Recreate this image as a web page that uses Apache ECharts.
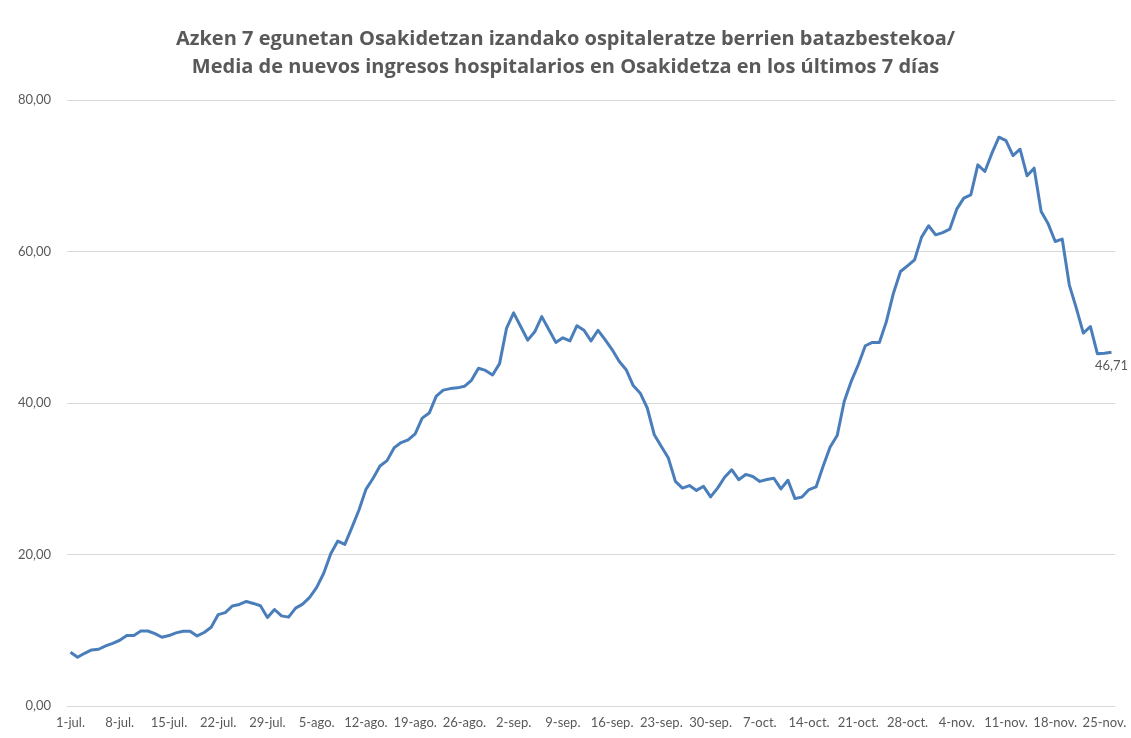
<!DOCTYPE html>
<html>
<head>
<meta charset="utf-8">
<script src="https://cdn.jsdelivr.net/npm/echarts@6/dist/echarts.min.js"></script>
<style>
html,body{margin:0;padding:0;background:#fff;}
#chart{width:1131px;height:738px;}
</style>
</head>
<body>
<div id="chart"></div>
<script>
// Category labels: daily from 1-jul. to 26-nov.
var monthNames = ['jul.', 'ago.', 'sep.', 'oct.', 'nov.'];
var monthDays = [31, 31, 30, 31, 26];
var categories = [];
for (var m = 0; m < monthNames.length; m++) {
  for (var d = 1; d <= monthDays[m]; d++) categories.push(d + '-' + monthNames[m]);
}

// 7-day average of new hospital admissions
var valuesJul = [7.09, 6.43, 6.96, 7.40, 7.49, 7.93, 8.28, 8.68, 9.30, 9.30,
  9.90, 9.90, 9.56, 9.07, 9.30, 9.65, 9.87, 9.87, 9.25, 9.70,
  10.40, 12.07, 12.33, 13.20, 13.40, 13.80, 13.54, 13.23, 11.68, 12.74, 11.90];
var valuesAgo = [11.73, 12.92, 13.45, 14.34, 15.66, 17.52, 20.10, 21.77, 21.33, 23.54,
  25.84, 28.60, 30.04, 31.68, 32.39, 34.07, 34.78, 35.13, 35.93, 38.00,
  38.67, 40.90, 41.70, 41.90, 42.00, 42.20, 43.00, 44.58, 44.30, 43.70, 45.20];
var valuesSep = [49.90, 51.90, 50.10, 48.30, 49.40, 51.40, 49.70, 48.00, 48.60, 48.20,
  50.20, 49.60, 48.20, 49.60, 48.37, 47.05, 45.50, 44.40, 42.30, 41.30,
  39.34, 35.80, 34.27, 32.73, 29.65, 28.77, 29.10, 28.46, 29.00, 27.60];
var valuesOct = [28.77, 30.20, 31.19, 29.87, 30.57, 30.30, 29.65, 29.90, 30.07, 28.66,
  29.80, 27.38, 27.60, 28.57, 28.92, 31.65, 34.20, 35.70, 40.20, 42.86,
  45.05, 47.56, 48.00, 48.00, 50.77, 54.50, 57.36, 58.10, 58.90, 61.90, 63.40];
var valuesNov = [62.20, 62.50, 62.95, 65.59, 67.04, 67.48, 71.44, 70.56, 72.98, 75.09,
  74.65, 72.67, 73.50, 69.99, 71.00, 65.28, 63.65, 61.32, 61.63, 55.60,
  52.52, 49.22, 50.10, 46.49, 46.58, 46.71];
var values = [].concat(valuesJul, valuesAgo, valuesSep, valuesOct, valuesNov);

var yTicks = [0, 20, 40, 60, 80];

var FONT = 'Lato, "Liberation Sans", sans-serif';
var TITLE_FONT = '"Open Sans", Lato, sans-serif';
function fmt(v) { return v.toFixed(2).replace('.', ','); }

var seriesData = values.map(function (v, i) {
  if (i === values.length - 1) {
    return {
      value: v,
      label: {
        show: true, position: 'bottom', distance: 7,
        formatter: function (p) { return fmt(p.value); },
        color: '#595959', fontSize: 13, fontFamily: FONT
      }
    };
  }
  return v;
});

var chart = echarts.init(document.getElementById('chart'), null, {renderer: 'canvas'});
chart.setOption({
  animation: false,
  backgroundColor: '#ffffff',
  title: {
    text: 'Azken 7 egunetan Osakidetzan izandako ospitaleratze berrien batazbestekoa/\nMedia de nuevos ingresos hospitalarios en Osakidetza en los últimos 7 días',
    left: 'center',
    top: 20,
    textStyle: {
      color: '#595959', fontSize: 20, fontWeight: 'bold', lineHeight: 28,
      fontFamily: TITLE_FONT
    }
  },
  grid: {left: 67, right: 16, top: 100, bottom: 32, containLabel: false},
  xAxis: {
    type: 'category',
    data: categories,
    boundaryGap: true,
    axisLine: {show: true, lineStyle: {color: '#d9d9d9', width: 1}},
    axisTick: {show: false},
    axisLabel: {
      interval: 6, color: '#595959', fontSize: 13, margin: 10,
      fontFamily: FONT
    },
    splitLine: {show: false}
  },
  yAxis: {
    type: 'value',
    min: yTicks[0], max: yTicks[yTicks.length - 1], interval: 20,
    axisLine: {show: false},
    axisTick: {show: false},
    axisLabel: {
      color: '#595959', fontSize: 13, margin: 16,
      fontFamily: FONT,
      formatter: function (v) { return fmt(v); }
    },
    splitLine: {show: true, lineStyle: {color: '#d9d9d9', width: 1}}
  },
  series: [{
    type: 'line',
    data: seriesData,
    showSymbol: true,
    symbol: 'circle',
    symbolSize: 1,
    smooth: false,
    lineStyle: {color: '#4a7ebb', width: 3, join: 'round'},
    itemStyle: {color: 'rgba(0,0,0,0)', borderWidth: 0},
    emphasis: {disabled: true}
  }]
});
</script>
</body>
</html>
